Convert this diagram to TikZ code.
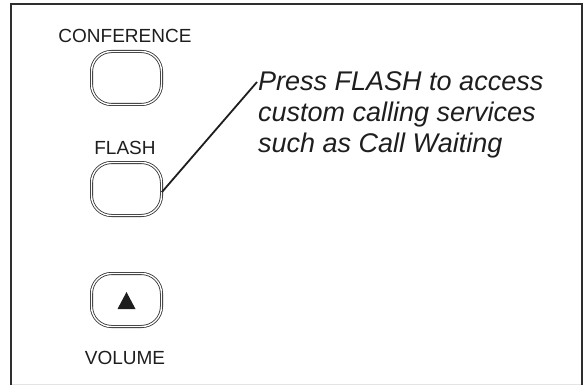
\documentclass[tikz,border=0pt]{standalone}
\usepackage{fontspec}
\setmainfont{Liberation Sans}
\usetikzlibrary{calc}
\definecolor{dunkel}{HTML}{2E2E2E}
\definecolor{tinte}{HTML}{1E1E1E}
\definecolor{hgrau}{HTML}{E4E4E4}
\tikzset{
  taste/.style={draw=dunkel,double=white,double distance=1.4pt,line width=0.8pt,
    rounded corners=20pt,minimum width=70pt,minimum height=53pt,inner sep=0pt},
  beschr/.style={tinte,font=\fontsize{19}{21}\selectfont,inner sep=0pt},
  hinweis/.style={tinte,font=\fontsize{27}{31}\selectfont\itshape,align=left,inner sep=0pt},
  zeiger/.style={tinte,line width=1.8pt},
  rahmen/.style={dunkel,line width=2pt},
}
\begin{document}
\begin{tikzpicture}[x=1pt,y=-1pt]
  \useasboundingbox (0,0) rectangle (586,385);
  % Rahmen
  \draw[rahmen] (11,385) -- (11,4) -- (582,4) -- (582,385);
  \draw[hgrau,line width=1pt] (12,384) -- (581,384);
  % Tasten
  \node[taste] (conf) at (126.5,78) {};
  \node[taste] (flash) at (126.5,189) {};
  \node[taste] (vol) at (126.5,300) {};
  \fill[tinte] ($(vol)+(-9,9)$) -- ($(vol)+(9,9)$) -- ($(vol)+(0,-8)$) -- cycle;
  \node[beschr] (conflab) at (125,35.5) {CONFERENCE};
  \node[beschr] (flashlab) at (125,148.3) {FLASH};
  \node[beschr] (vollab) at (125,358) {VOLUME};
  % Hinweis
  \coordinate (tip) at (257,82);
  \node[hinweis,anchor=north west] (note) at (258,71.5)
    {Press FLASH to access\\custom calling services\\such as Call Waiting};
  \draw[zeiger] (flash.-5) -- (tip);
\end{tikzpicture}
\end{document}
